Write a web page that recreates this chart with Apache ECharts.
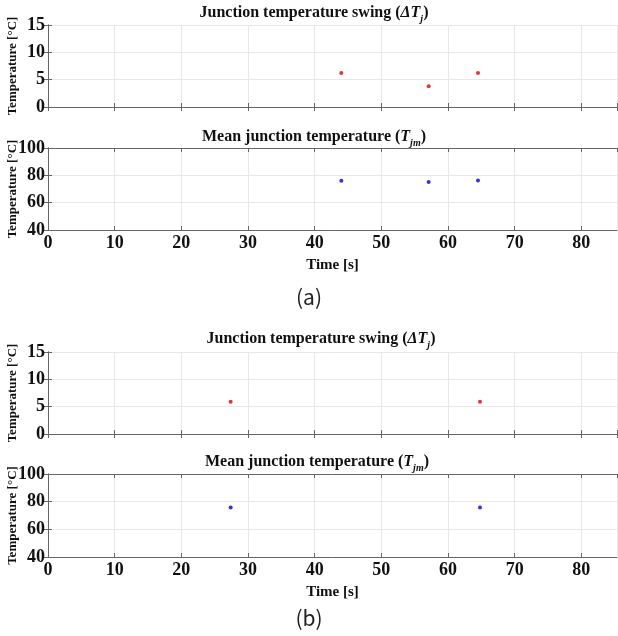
<!DOCTYPE html>
<html>
<head>
<meta charset="utf-8">
<script src="https://cdn.jsdelivr.net/npm/echarts@6/dist/echarts.min.js"></script>
<style>
  html, body { margin: 0; padding: 0; background: #fff; }
  #chart { width: 618px; height: 636px; }
</style>
</head>
<body>
<div id="chart"></div>
<script>
// 数据 (a)
var timeA = [44.0, 57.1, 64.5];
var swingA = [6.2, 3.8, 6.2];
var meanA = [76.1, 75.1, 76.3];
// 数据 (b)
var timeB = [27.4, 64.8];
var swingB = [5.9, 5.9];
var meanB = [75.8, 75.8];

var xRange = [0, 85.35, 10];
var swingRange = [0, 15, 5];
var meanRange = [40, 100, 20];

var serif = '"Liberation Serif", "Times New Roman", serif';
var axisCol = '#666';

function pairs(xs, ys) {
  var out = [];
  for (var i = 0; i < xs.length; i++) out.push([xs[i], ys[i]]);
  return out;
}

// 四个子图的位置
var grids = [
  { left: 48, top: 25, width: 569, height: 82, containLabel: false, outerBoundsMode: 'none' },
  { left: 48, top: 148, width: 569, height: 82, containLabel: false, outerBoundsMode: 'none' },
  { left: 48, top: 352, width: 569, height: 82, containLabel: false, outerBoundsMode: 'none' },
  { left: 48, top: 474, width: 569, height: 83, containLabel: false, outerBoundsMode: 'none' }
];

var xAxes = [], yAxes = [];
for (var g = 0; g < 4; g++) {
  var showX = (g % 2 === 1);
  xAxes.push({
    type: 'value', gridIndex: g, position: 'bottom',
    min: xRange[0], max: xRange[1], interval: xRange[2],
    name: showX ? 'Time [s]' : '', nameLocation: 'middle', nameGap: 28, nameMoveOverlap: false,
    nameTextStyle: { fontFamily: serif, fontWeight: 'bold', fontSize: 15, color: '#111' },
    axisLine: { show: true, lineStyle: { color: axisCol, width: 1 } },
    axisTick: { show: true, inside: true, length: 4, lineStyle: { color: axisCol } },
    axisLabel: { show: showX, showMaxLabel: false, margin: 4, fontFamily: serif, fontWeight: 'bold', fontSize: 18, color: '#111' },
    splitLine: { show: true, lineStyle: { color: '#e8e8e8', width: 1 } }
  });
  xAxes.push({
    type: 'value', gridIndex: g, position: 'top',
    min: xRange[0], max: xRange[1], interval: xRange[2],
    axisLine: { show: true, lineStyle: { color: axisCol, width: 1 } },
    axisTick: { show: true, inside: true, length: 4, lineStyle: { color: axisCol } },
    axisLabel: { show: false },
    splitLine: { show: false }
  });
  var r = (g % 2 === 0) ? swingRange : meanRange;
  yAxes.push({
    type: 'value', gridIndex: g, position: 'left',
    min: r[0], max: r[1], interval: r[2],
    name: 'Temperature [°C]', nameLocation: 'middle', nameGap: 29, nameRotate: 90, nameMoveOverlap: false,
    nameTextStyle: { fontFamily: serif, fontWeight: 'bold', fontSize: 13, color: '#111' },
    axisLine: { show: true, lineStyle: { color: axisCol, width: 1 } },
    axisTick: { show: true, inside: true, length: 4, lineStyle: { color: axisCol } },
    axisLabel: { margin: 3, fontFamily: serif, fontWeight: 'bold', fontSize: 18, color: '#111' },
    splitLine: { show: true, lineStyle: { color: '#e8e8e8', width: 1 } }
  });
  yAxes.push({
    type: 'value', gridIndex: g, position: 'right',
    min: r[0], max: r[1], interval: r[2],
    axisLine: { show: true, lineStyle: { color: axisCol, width: 1 } },
    axisTick: { show: true, inside: true, length: 4, lineStyle: { color: axisCol } },
    axisLabel: { show: false },
    splitLine: { show: false }
  });
}

function dots(g, data, color) {
  return {
    type: 'scatter', xAxisIndex: g * 2, yAxisIndex: g * 2,
    data: data, symbol: 'circle', symbolSize: 4,
    itemStyle: { color: color }, silent: true
  };
}

var richTitle = {
  b: { fontFamily: serif, fontWeight: 'bold', fontSize: 16, fill: '#111' },
  i: { fontFamily: serif, fontWeight: 'bold', fontStyle: 'italic', fontSize: 16, fill: '#111' },
  s: { fontFamily: serif, fontWeight: 'bold', fontStyle: 'italic', fontSize: 10, fill: '#111', verticalAlign: 'bottom', padding: [0, 0, -3, 0] }
};

function titleText(x, y, txt) {
  return {
    type: 'text', x: x, y: y,
    style: { text: txt, rich: richTitle, align: 'center', verticalAlign: 'middle', font: 'bold 16px ' + serif }
  };
}

function tagText(x, y, txt) {
  return {
    type: 'text', x: x, y: y,
    style: { text: txt, align: 'center', verticalAlign: 'middle', fontFamily: '"Noto Sans CJK KR", "Noto Sans", sans-serif', fontSize: 21, fill: '#222' }
  };
}

var swingTitle = '{b|Junction temperature swing (}{i|ΔT}{s|j}{b|)}';
var meanTitle = '{b|Mean junction temperature (}{i|T}{s|jm}{b|)}';

var myChart = echarts.init(document.getElementById('chart'));
var option = {
  animation: false,
  backgroundColor: '#fff',
  grid: grids,
  xAxis: xAxes,
  yAxis: yAxes,
  series: [
    dots(0, pairs(timeA, swingA), '#e00000'),
    dots(1, pairs(timeA, meanA), '#0000d0'),
    dots(2, pairs(timeB, swingB), '#e00000'),
    dots(3, pairs(timeB, meanB), '#0000d0')
  ],
  graphic: [
    titleText(314, 13, swingTitle),
    titleText(314, 137, meanTitle),
    titleText(321, 339, swingTitle),
    titleText(317, 462, meanTitle),
    tagText(309, 297, '(a)'),
    tagText(309, 618, '(b)')
  ]
};
myChart.setOption(option);
</script>
</body>
</html>
